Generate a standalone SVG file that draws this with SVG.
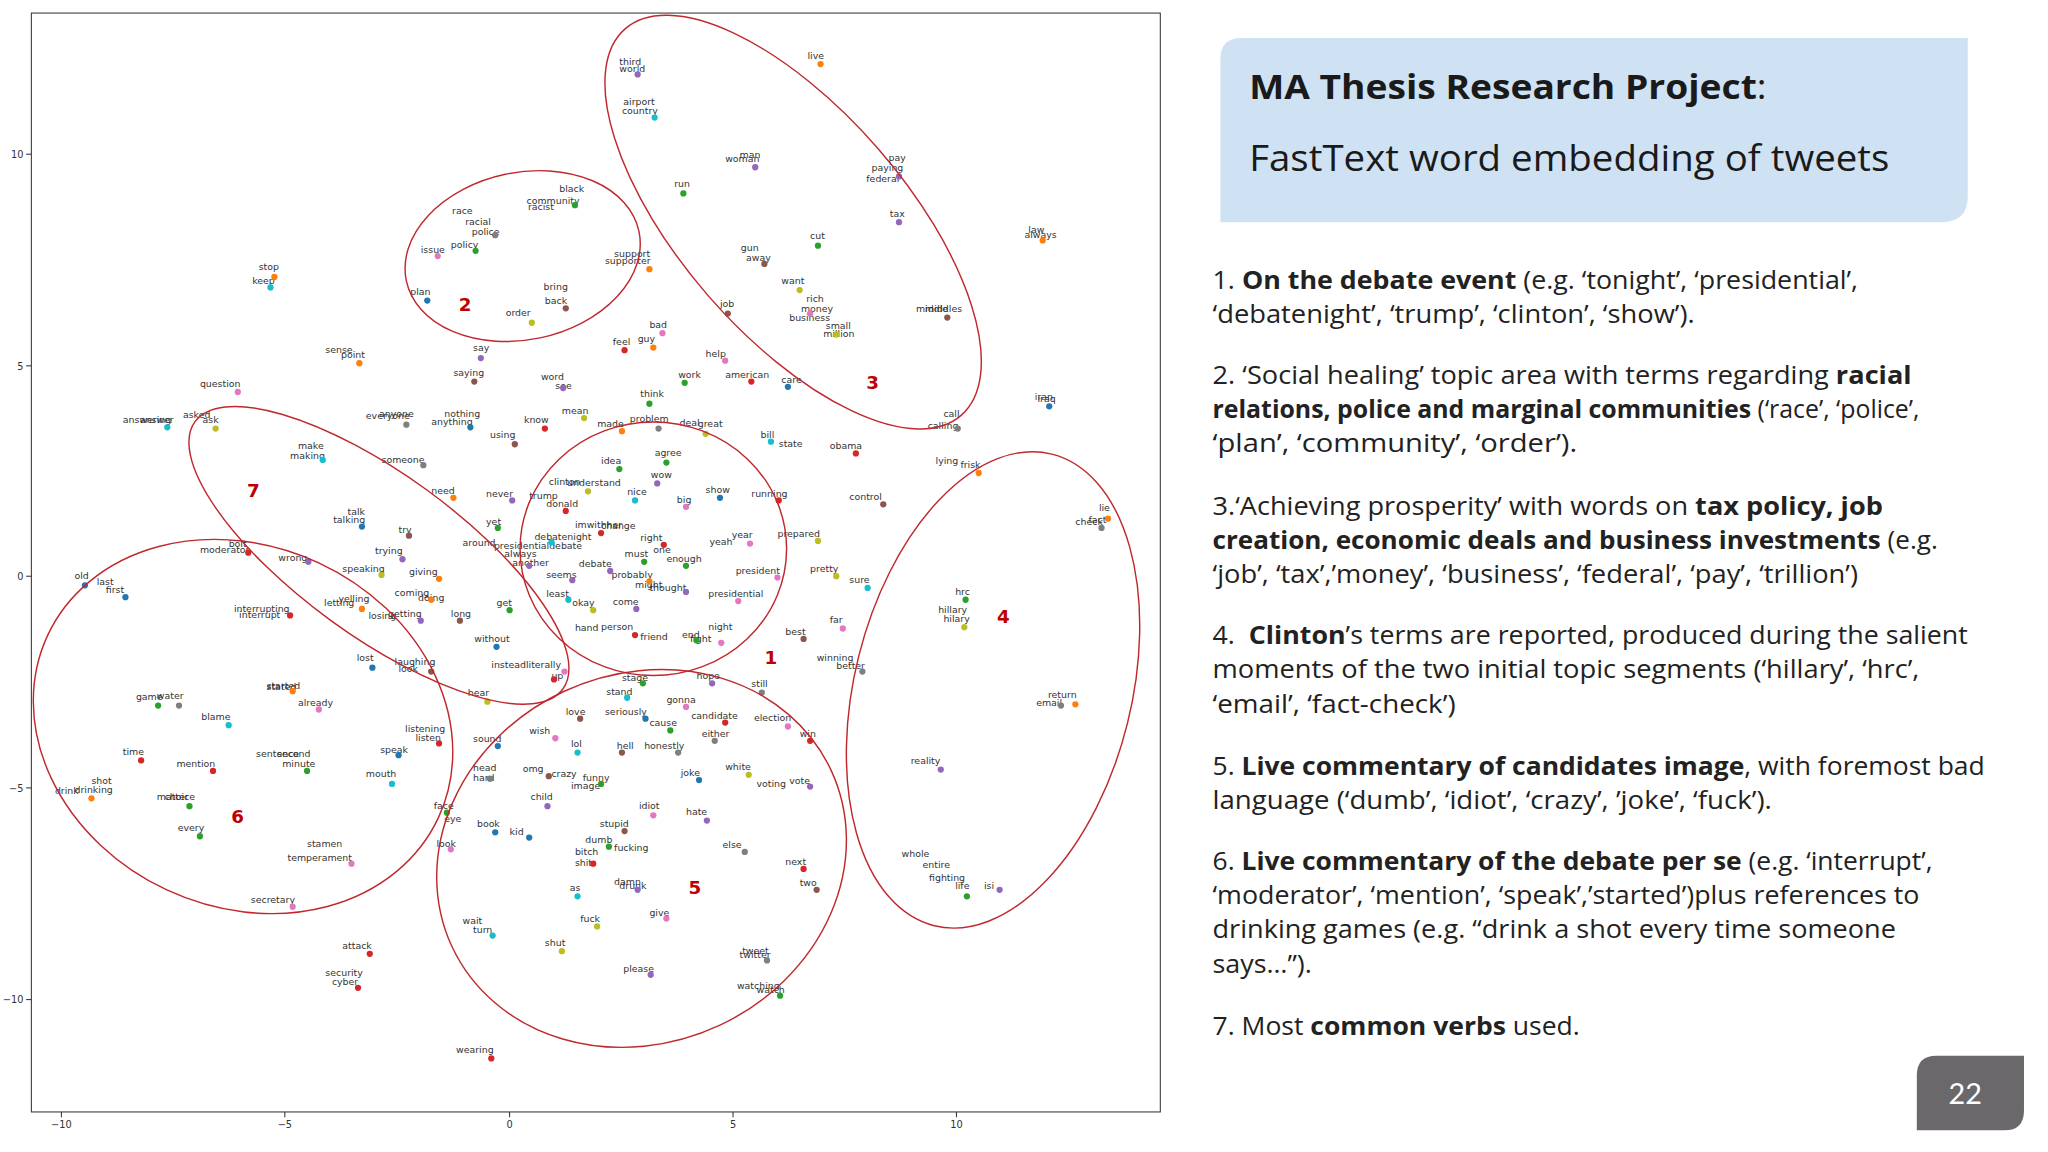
<svg xmlns="http://www.w3.org/2000/svg" width="2048" height="1152" viewBox="0 0 2048 1152">
<style>
.w{font-family:"DejaVu Sans",sans-serif;font-size:7.2px;fill:#333}
.ax{font-family:"DejaVu Sans",sans-serif;font-size:7.5px;fill:#333}
.n{font-family:"DejaVu Sans",sans-serif;font-size:14px;fill:#c00000;font-weight:bold}
.el{fill:none;stroke:#c0282d;stroke-width:1.1}
.t{font-family:"Open Sans",Lato,sans-serif;font-size:19.5px;fill:#222}
.a{fill:#1f77b4}.b{fill:#ff7f0e}.c{fill:#2ca02c}.d{fill:#d62728}.e{fill:#9467bd}.f{fill:#8c564b}.g{fill:#e377c2}.h{fill:#7f7f7f}.i{fill:#bcbd22}.j{fill:#17becf}
</style>
<rect width="2048" height="1152" fill="#fff"/>
<g transform="scale(1.30664)">
<g id="plot">
<rect x="24" y="10" width="864" height="841" fill="#fff" stroke="#333" stroke-width="0.8"/>
<g stroke="#333" stroke-width="0.8">
<line x1="47" y1="851" x2="47" y2="855"/><line x1="218" y1="851" x2="218" y2="855"/><line x1="390" y1="851" x2="390" y2="855"/><line x1="561" y1="851" x2="561" y2="855"/><line x1="732" y1="851" x2="732" y2="855"/>
<line x1="20" y1="118" x2="24" y2="118"/><line x1="20" y1="280" x2="24" y2="280"/><line x1="20" y1="441" x2="24" y2="441"/><line x1="20" y1="603" x2="24" y2="603"/><line x1="20" y1="765" x2="24" y2="765"/>
</g>
<g class="ax" text-anchor="middle"><text x="47" y="863">−10</text><text x="218" y="863">−5</text><text x="390" y="863">0</text><text x="561" y="863">5</text><text x="732" y="863">10</text></g>
<g class="ax" text-anchor="end"><text x="18" y="121">10</text><text x="18" y="283">5</text><text x="18" y="444">0</text><text x="18" y="606">−5</text><text x="18" y="768">−10</text></g>
<g class="w">
<text x="474" y="50">third</text><text x="474" y="55">world</text><text x="618" y="45">live</text><text x="477" y="80">airport</text><text x="476" y="87">country</text>
<text x="555" y="124">woman</text><text x="566" y="121">man</text><text x="680" y="123">pay</text><text x="667" y="131">paying</text><text x="663" y="139">federal</text>
<text x="516" y="143">run</text><text x="428" y="147">black</text><text x="403" y="156">community</text><text x="404" y="161">racist</text>
<text x="346" y="164">race</text><text x="356" y="172">racial</text><text x="361" y="180">police</text><text x="681" y="166">tax</text><text x="787" y="178">law</text><text x="784" y="182">always</text>
<text x="620" y="183">cut</text><text x="322" y="194">issue</text><text x="345" y="190">policy</text><text x="567" y="192">gun</text><text x="571" y="200">away</text>
<text x="470" y="197">support</text><text x="463" y="202">supporter</text><text x="198" y="207">stop</text><text x="193" y="217">keep</text><text x="598" y="217">want</text>
<text x="416" y="222">bring</text><text x="417" y="233">back</text><text x="617" y="231">rich</text><text x="613" y="239">money</text><text x="604" y="246">business</text><text x="632" y="252">small</text><text x="630" y="258">million</text>
<text x="314" y="226">plan</text><text x="701" y="239">middle</text><text x="708" y="239">middles</text><text x="551" y="235">job</text><text x="387" y="242">order</text><text x="497" y="251">bad</text>
<text x="469" y="264">feel</text><text x="488" y="262">guy</text><text x="362" y="269">say</text><text x="540" y="273">help</text><text x="249" y="270">sense</text><text x="261" y="274">point</text>
<text x="347" y="288">saying</text><text x="519" y="289">work</text><text x="555" y="289">american</text><text x="598" y="293">care</text><text x="414" y="291">word</text><text x="425" y="298">see</text>
<text x="153" y="296">question</text><text x="490" y="304">think</text><text x="792" y="306">iran</text><text x="794" y="308">iraq</text><text x="94" y="324">answering</text><text x="107" y="324">answer</text>
<text x="140" y="320">asked</text><text x="155" y="324">ask</text><text x="280" y="321">everyone</text><text x="290" y="319">anyone</text><text x="330" y="325">anything</text><text x="340" y="319">nothing</text>
<text x="401" y="324">know</text><text x="430" y="317">mean</text><text x="457" y="327">made</text><text x="482" y="323">problem</text><text x="520" y="326">deal</text><text x="534" y="327">great</text>
<text x="722" y="319">call</text><text x="710" y="328">calling</text><text x="375" y="335">using</text><text x="582" y="335">bill</text><text x="596" y="342">state</text><text x="635" y="344">obama</text>
<text x="228" y="344">make</text><text x="222" y="351">making</text><text x="501" y="349">agree</text><text x="292" y="354">someone</text><text x="460" y="355">idea</text><text x="716" y="355">lying</text><text x="735" y="358">frisk</text>
<text x="498" y="366">wow</text><text x="420" y="371">clinton</text><text x="434" y="372">understand</text><text x="480" y="379">nice</text><text x="405" y="382">trump</text><text x="418" y="388">donald</text>
<text x="330" y="378">need</text><text x="372" y="380">never</text><text x="540" y="377">show</text><text x="575" y="380">running</text><text x="518" y="385">big</text><text x="650" y="383">control</text>
<text x="266" y="394">talk</text><text x="255" y="400">talking</text><text x="440" y="404">imwithher</text><text x="460" y="405">change</text><text x="305" y="408">try</text><text x="372" y="402">yet</text>
<text x="409" y="413">debatenight</text><text x="378" y="420">presidentialdebate</text><text x="354" y="418">around</text><text x="490" y="414">right</text><text x="560" y="412">year</text><text x="543" y="417">yeah</text><text x="595" y="411">prepared</text>
<text x="153" y="423">moderator</text><text x="175" y="419">bolt</text><text x="287" y="424">trying</text><text x="386" y="426">always</text><text x="392" y="433">another</text><text x="478" y="426">must</text><text x="500" y="423">one</text>
<text x="510" y="430">enough</text><text x="213" y="429">wrong</text><text x="262" y="438">speaking</text><text x="313" y="440">giving</text><text x="418" y="442">seems</text><text x="443" y="434">debate</text>
<text x="563" y="439">president</text><text x="620" y="438">pretty</text><text x="468" y="442">probably</text><text x="650" y="446">sure</text><text x="57" y="443">old</text><text x="74" y="448">last</text><text x="81" y="454">first</text>
<text x="486" y="450">might</text><text x="497" y="452">thought</text><text x="418" y="457">least</text><text x="542" y="457">presidential</text><text x="731" y="455">hrc</text><text x="302" y="456">coming</text><text x="320" y="460">doing</text>
<text x="259" y="461">yelling</text><text x="248" y="464">letting</text><text x="179" y="468">interrupting</text><text x="183" y="473">interrupt</text><text x="438" y="464">okay</text><text x="469" y="463">come</text><text x="380" y="464">get</text>
<text x="718" y="469">hillary</text><text x="722" y="476">hilary</text><text x="282" y="474">losing</text><text x="297" y="472">getting</text><text x="345" y="472">long</text><text x="635" y="477">far</text>
<text x="440" y="483">hand</text><text x="460" y="482">person</text><text x="490" y="490">friend</text><text x="522" y="488">end</text><text x="542" y="482">night</text><text x="528" y="491">fight</text><text x="601" y="486">best</text>
<text x="363" y="491">without</text><text x="273" y="506">lost</text><text x="302" y="509">laughing</text><text x="305" y="514">look</text><text x="376" y="511">insteadliterally</text><text x="422" y="520">up</text>
<text x="625" y="506">winning</text><text x="640" y="512">better</text><text x="533" y="520">hope</text><text x="476" y="521">stage</text><text x="575" y="526">still</text><text x="204" y="527">started</text><text x="204" y="528">stated</text><text x="228" y="540">already</text>
<text x="358" y="533">hear</text><text x="464" y="532">stand</text><text x="510" y="538">gonna</text><text x="104" y="536">game</text><text x="120" y="535">water</text><text x="802" y="534">return</text><text x="793" y="540">email</text>
<text x="463" y="547">seriously</text><text x="529" y="550">candidate</text><text x="577" y="552">election</text><text x="433" y="547">love</text><text x="497" y="556">cause</text><text x="154" y="551">blame</text><text x="537" y="564">either</text>
<text x="405" y="562">wish</text><text x="310" y="560">listening</text><text x="318" y="567">listen</text><text x="612" y="564">win</text><text x="362" y="568">sound</text><text x="437" y="572">lol</text><text x="472" y="573">hell</text><text x="493" y="573">honestly</text>
<text x="291" y="576">speak</text><text x="196" y="579">sentence</text><text x="212" y="579">second</text><text x="216" y="587">minute</text><text x="94" y="578">time</text><text x="135" y="587">mention</text><text x="697" y="585">reality</text>
<text x="362" y="590">head</text><text x="362" y="598">hard</text><text x="400" y="591">omg</text><text x="422" y="595">crazy</text><text x="446" y="598">funny</text><text x="437" y="604">image</text><text x="555" y="589">white</text><text x="521" y="594">joke</text>
<text x="579" y="602">voting</text><text x="604" y="600">vote</text><text x="280" y="595">mouth</text><text x="70" y="600">shot</text><text x="42" y="608">drink</text><text x="57" y="607">drinking</text><text x="120" y="612">matter</text><text x="126" y="612">choice</text>
<text x="406" y="612">child</text><text x="489" y="619">idiot</text><text x="332" y="619">face</text><text x="525" y="624">hate</text><text x="340" y="629">eye</text><text x="365" y="633">book</text><text x="390" y="639">kid</text><text x="459" y="633">stupid</text>
<text x="136" y="636">every</text><text x="448" y="645">dumb</text><text x="470" y="651">fucking</text><text x="553" y="649">else</text><text x="235" y="648">stamen</text><text x="220" y="659">temperament</text><text x="334" y="648">look</text>
<text x="440" y="654">bitch</text><text x="440" y="663">shit</text><text x="690" y="656">whole</text><text x="706" y="664">entire</text><text x="711" y="674">fighting</text><text x="731" y="680">life</text><text x="753" y="680">isi</text>
<text x="601" y="662">next</text><text x="612" y="678">two</text><text x="436" y="682">as</text><text x="470" y="677">damn</text><text x="474" y="680">drunk</text><text x="192" y="691">secretary</text><text x="497" y="701">give</text>
<text x="354" y="707">wait</text><text x="362" y="714">turn</text><text x="444" y="706">fuck</text><text x="417" y="724">shut</text><text x="262" y="726">attack</text><text x="568" y="730">tweet</text><text x="566" y="733">twitter</text>
<text x="477" y="744">please</text><text x="249" y="747">security</text><text x="254" y="754">cyber</text><text x="564" y="757">watching</text><text x="579" y="760">watch</text><text x="349" y="806">wearing</text>
<text x="841" y="391">lie</text><text x="833" y="400">fact</text><text x="823" y="402">check</text>
</g>
<g>
<circle class="e" cx="488" cy="57" r="2.4"/><circle class="b" cx="628" cy="49" r="2.4"/><circle class="j" cx="501" cy="90" r="2.4"/><circle class="e" cx="578" cy="128" r="2.4"/><circle class="e" cx="688" cy="135" r="2.4"/>
<circle class="c" cx="523" cy="148" r="2.4"/><circle class="c" cx="440" cy="157" r="2.4"/><circle class="h" cx="379" cy="180" r="2.4"/><circle class="e" cx="688" cy="170" r="2.4"/><circle class="b" cx="798" cy="184" r="2.4"/>
<circle class="c" cx="626" cy="188" r="2.4"/><circle class="g" cx="335" cy="196" r="2.4"/><circle class="c" cx="364" cy="192" r="2.4"/><circle class="f" cx="585" cy="202" r="2.4"/><circle class="b" cx="497" cy="206" r="2.4"/>
<circle class="b" cx="210" cy="212" r="2.4"/><circle class="j" cx="207" cy="220" r="2.4"/><circle class="i" cx="612" cy="222" r="2.4"/><circle class="f" cx="433" cy="236" r="2.4"/><circle class="g" cx="620" cy="240" r="2.4"/><circle class="i" cx="640" cy="256" r="2.4"/>
<circle class="a" cx="327" cy="230" r="2.4"/><circle class="f" cx="725" cy="243" r="2.4"/><circle class="f" cx="557" cy="240" r="2.4"/><circle class="i" cx="407" cy="247" r="2.4"/><circle class="g" cx="507" cy="255" r="2.4"/>
<circle class="d" cx="478" cy="268" r="2.4"/><circle class="b" cx="500" cy="266" r="2.4"/><circle class="e" cx="368" cy="274" r="2.4"/><circle class="g" cx="555" cy="276" r="2.4"/><circle class="b" cx="275" cy="278" r="2.4"/>
<circle class="f" cx="363" cy="292" r="2.4"/><circle class="c" cx="524" cy="293" r="2.4"/><circle class="d" cx="575" cy="292" r="2.4"/><circle class="a" cx="603" cy="296" r="2.4"/><circle class="e" cx="431" cy="297" r="2.4"/>
<circle class="g" cx="182" cy="300" r="2.4"/><circle class="c" cx="497" cy="309" r="2.4"/><circle class="a" cx="803" cy="311" r="2.4"/><circle class="j" cx="128" cy="327" r="2.4"/><circle class="i" cx="165" cy="328" r="2.4"/>
<circle class="h" cx="311" cy="325" r="2.4"/><circle class="a" cx="360" cy="327" r="2.4"/><circle class="d" cx="417" cy="328" r="2.4"/><circle class="i" cx="447" cy="320" r="2.4"/><circle class="b" cx="476" cy="330" r="2.4"/><circle class="h" cx="504" cy="328" r="2.4"/><circle class="i" cx="540" cy="332" r="2.4"/>
<circle class="h" cx="733" cy="328" r="2.4"/><circle class="f" cx="394" cy="340" r="2.4"/><circle class="j" cx="590" cy="338" r="2.4"/><circle class="d" cx="655" cy="347" r="2.4"/><circle class="j" cx="247" cy="352" r="2.4"/>
<circle class="c" cx="510" cy="354" r="2.4"/><circle class="h" cx="324" cy="356" r="2.4"/><circle class="c" cx="474" cy="359" r="2.4"/><circle class="b" cx="749" cy="362" r="2.4"/><circle class="e" cx="503" cy="370" r="2.4"/>
<circle class="i" cx="450" cy="376" r="2.4"/><circle class="j" cx="486" cy="383" r="2.4"/><circle class="d" cx="433" cy="391" r="2.4"/><circle class="b" cx="347" cy="381" r="2.4"/><circle class="e" cx="392" cy="383" r="2.4"/><circle class="a" cx="551" cy="381" r="2.4"/>
<circle class="d" cx="596" cy="383" r="2.4"/><circle class="g" cx="525" cy="388" r="2.4"/><circle class="f" cx="676" cy="386" r="2.4"/><circle class="a" cx="277" cy="403" r="2.4"/><circle class="d" cx="460" cy="408" r="2.4"/><circle class="f" cx="313" cy="410" r="2.4"/>
<circle class="c" cx="381" cy="404" r="2.4"/><circle class="j" cx="422" cy="415" r="2.4"/><circle class="d" cx="508" cy="417" r="2.4"/><circle class="g" cx="574" cy="416" r="2.4"/><circle class="i" cx="626" cy="414" r="2.4"/>
<circle class="d" cx="190" cy="423" r="2.4"/><circle class="e" cx="308" cy="428" r="2.4"/><circle class="e" cx="405" cy="433" r="2.4"/><circle class="c" cx="493" cy="430" r="2.4"/><circle class="c" cx="525" cy="433" r="2.4"/><circle class="e" cx="236" cy="430" r="2.4"/>
<circle class="i" cx="292" cy="440" r="2.4"/><circle class="b" cx="336" cy="443" r="2.4"/><circle class="e" cx="438" cy="444" r="2.4"/><circle class="e" cx="467" cy="437" r="2.4"/><circle class="g" cx="595" cy="442" r="2.4"/><circle class="i" cx="640" cy="441" r="2.4"/>
<circle class="b" cx="497" cy="445" r="2.4"/><circle class="j" cx="664" cy="450" r="2.4"/><circle class="a" cx="65" cy="448" r="2.4"/><circle class="a" cx="96" cy="457" r="2.4"/><circle class="e" cx="525" cy="453" r="2.4"/><circle class="j" cx="435" cy="459" r="2.4"/>
<circle class="g" cx="565" cy="460" r="2.4"/><circle class="c" cx="739" cy="459" r="2.4"/><circle class="b" cx="330" cy="459" r="2.4"/><circle class="b" cx="277" cy="466" r="2.4"/><circle class="d" cx="222" cy="471" r="2.4"/>
<circle class="i" cx="454" cy="467" r="2.4"/><circle class="e" cx="487" cy="466" r="2.4"/><circle class="c" cx="390" cy="467" r="2.4"/><circle class="i" cx="738" cy="480" r="2.4"/><circle class="e" cx="322" cy="475" r="2.4"/><circle class="f" cx="352" cy="475" r="2.4"/>
<circle class="g" cx="645" cy="481" r="2.4"/><circle class="d" cx="486" cy="486" r="2.4"/><circle class="g" cx="552" cy="492" r="2.4"/><circle class="c" cx="533" cy="490" r="2.4"/><circle class="f" cx="615" cy="489" r="2.4"/><circle class="a" cx="380" cy="495" r="2.4"/>
<circle class="a" cx="285" cy="511" r="2.4"/><circle class="f" cx="330" cy="514" r="2.4"/><circle class="g" cx="432" cy="514" r="2.4"/><circle class="d" cx="424" cy="520" r="2.4"/><circle class="h" cx="660" cy="514" r="2.4"/><circle class="e" cx="545" cy="523" r="2.4"/>
<circle class="c" cx="492" cy="523" r="2.4"/><circle class="h" cx="583" cy="530" r="2.4"/><circle class="b" cx="224" cy="529" r="2.4"/><circle class="g" cx="244" cy="543" r="2.4"/><circle class="i" cx="373" cy="537" r="2.4"/><circle class="j" cx="480" cy="534" r="2.4"/>
<circle class="g" cx="525" cy="541" r="2.4"/><circle class="c" cx="121" cy="540" r="2.4"/><circle class="h" cx="137" cy="540" r="2.4"/><circle class="h" cx="812" cy="540" r="2.4"/><circle class="b" cx="823" cy="539" r="2.4"/>
<circle class="a" cx="494" cy="550" r="2.4"/><circle class="d" cx="555" cy="553" r="2.4"/><circle class="g" cx="603" cy="556" r="2.4"/><circle class="f" cx="444" cy="550" r="2.4"/><circle class="c" cx="513" cy="559" r="2.4"/><circle class="j" cx="175" cy="555" r="2.4"/>
<circle class="h" cx="547" cy="567" r="2.4"/><circle class="g" cx="425" cy="565" r="2.4"/><circle class="d" cx="336" cy="569" r="2.4"/><circle class="d" cx="620" cy="567" r="2.4"/><circle class="a" cx="381" cy="571" r="2.4"/>
<circle class="j" cx="442" cy="576" r="2.4"/><circle class="f" cx="476" cy="576" r="2.4"/><circle class="h" cx="519" cy="576" r="2.4"/><circle class="a" cx="305" cy="578" r="2.4"/><circle class="c" cx="235" cy="590" r="2.4"/><circle class="d" cx="108" cy="582" r="2.4"/>
<circle class="d" cx="163" cy="590" r="2.4"/><circle class="e" cx="720" cy="589" r="2.4"/><circle class="h" cx="375" cy="596" r="2.4"/><circle class="f" cx="420" cy="594" r="2.4"/><circle class="c" cx="460" cy="600" r="2.4"/>
<circle class="i" cx="573" cy="593" r="2.4"/><circle class="a" cx="535" cy="597" r="2.4"/><circle class="e" cx="620" cy="602" r="2.4"/><circle class="j" cx="300" cy="600" r="2.4"/><circle class="b" cx="70" cy="611" r="2.4"/><circle class="c" cx="145" cy="617" r="2.4"/>
<circle class="e" cx="419" cy="617" r="2.4"/><circle class="g" cx="500" cy="624" r="2.4"/><circle class="c" cx="342" cy="622" r="2.4"/><circle class="e" cx="541" cy="628" r="2.4"/><circle class="a" cx="379" cy="637" r="2.4"/><circle class="a" cx="405" cy="641" r="2.4"/>
<circle class="f" cx="478" cy="636" r="2.4"/><circle class="c" cx="153" cy="640" r="2.4"/><circle class="c" cx="466" cy="648" r="2.4"/><circle class="h" cx="570" cy="652" r="2.4"/><circle class="g" cx="269" cy="661" r="2.4"/><circle class="g" cx="345" cy="650" r="2.4"/>
<circle class="d" cx="454" cy="661" r="2.4"/><circle class="c" cx="740" cy="686" r="2.4"/><circle class="e" cx="765" cy="681" r="2.4"/><circle class="d" cx="615" cy="665" r="2.4"/><circle class="f" cx="625" cy="681" r="2.4"/>
<circle class="j" cx="442" cy="686" r="2.4"/><circle class="e" cx="488" cy="681" r="2.4"/><circle class="g" cx="224" cy="694" r="2.4"/><circle class="g" cx="510" cy="703" r="2.4"/><circle class="j" cx="377" cy="716" r="2.4"/><circle class="i" cx="457" cy="709" r="2.4"/>
<circle class="i" cx="430" cy="728" r="2.4"/><circle class="d" cx="283" cy="730" r="2.4"/><circle class="h" cx="587" cy="735" r="2.4"/><circle class="e" cx="498" cy="746" r="2.4"/><circle class="d" cx="274" cy="756" r="2.4"/><circle class="c" cx="597" cy="762" r="2.4"/>
<circle class="d" cx="376" cy="810" r="2.4"/><circle class="b" cx="848" cy="397" r="2.4"/><circle class="h" cx="843" cy="404" r="2.4"/>
</g>
<g id="clusters">
<ellipse class="el" cx="500" cy="420" rx="102" ry="97"/>
<ellipse class="el" cx="400" cy="196" rx="91" ry="64" transform="rotate(-12 400 196)"/>
<ellipse class="el" cx="607" cy="170" rx="196" ry="86" transform="rotate(49 607 170)"/>
<ellipse class="el" cx="760" cy="528" rx="106" ry="186" transform="rotate(14 760 528)"/>
<ellipse class="el" cx="491" cy="657" rx="160" ry="141" transform="rotate(-25 491 657)"/>
<ellipse class="el" cx="186" cy="556" rx="165" ry="138" transform="rotate(25 186 556)"/>
<ellipse class="el" cx="290" cy="425" rx="174" ry="62" transform="rotate(36 290 425)"/>
<text class="n" x="585" y="508">1</text><text class="n" x="351" y="238">2</text><text class="n" x="663" y="298">3</text><text class="n" x="763" y="477">4</text><text class="n" x="527" y="684">5</text><text class="n" x="177" y="630">6</text><text class="n" x="189" y="380">7</text>
</g>
</g>
<g id="title">
<path d="M950,29 H1506 V150 Q1506,170 1486,170 H934 V45 Q934,29 950,29 Z" fill="#cfe2f3"/>
<text x="956" y="76" font-family="'Open Sans',Lato,sans-serif" font-size="26" font-weight="bold" fill="#1a1a1a" textLength="396" lengthAdjust="spacingAndGlyphs">MA Thesis Research Project<tspan font-weight="normal">:</tspan></text>
<text x="956" y="131" font-family="'Open Sans',Lato,sans-serif" font-size="28" fill="#1a1a1a" textLength="490" lengthAdjust="spacingAndGlyphs">FastText word embedding of tweets</text>
</g>
<g id="notes" class="t">
<text x="928" y="221" textLength="494" lengthAdjust="spacingAndGlyphs">1. <tspan font-weight="bold">On the debate event</tspan> (e.g. ‘tonight’, ‘presidential’,</text>
<text x="928" y="247" textLength="369" lengthAdjust="spacingAndGlyphs">‘debatenight’, ‘trump’, ‘clinton’, ‘show’).</text>
<text x="928" y="294" textLength="535" lengthAdjust="spacingAndGlyphs">2. ‘Social healing’ topic area with terms regarding <tspan font-weight="bold">racial</tspan></text>
<text x="928" y="320" textLength="541" lengthAdjust="spacingAndGlyphs"><tspan font-weight="bold">relations, police and marginal communities</tspan> (‘race’, ‘police’,</text>
<text x="928" y="346" textLength="279" lengthAdjust="spacingAndGlyphs">‘plan’, ‘community’, ‘order’).</text>
<text x="928" y="394" textLength="513" lengthAdjust="spacingAndGlyphs">3.‘Achieving prosperity’ with words on <tspan font-weight="bold">tax policy, job</tspan></text>
<text x="928" y="420" textLength="555" lengthAdjust="spacingAndGlyphs"><tspan font-weight="bold">creation, economic deals and business investments</tspan> (e.g.</text>
<text x="928" y="446" textLength="494" lengthAdjust="spacingAndGlyphs">‘job’, ‘tax’,’money’, ‘business’, ‘federal’, ‘pay’, ‘trillion’)</text>
<text x="928" y="493" textLength="578" lengthAdjust="spacingAndGlyphs" xml:space="preserve">4.  <tspan font-weight="bold">Clinton</tspan>’s terms are reported, produced during the salient</text>
<text x="928" y="519" textLength="541" lengthAdjust="spacingAndGlyphs">moments of the two initial topic segments (‘hillary’, ‘hrc’,</text>
<text x="928" y="546" textLength="186" lengthAdjust="spacingAndGlyphs">‘email’, ‘fact-check’)</text>
<text x="928" y="593" textLength="591" lengthAdjust="spacingAndGlyphs">5. <tspan font-weight="bold">Live commentary of candidates image</tspan>, with foremost bad</text>
<text x="928" y="619" textLength="428" lengthAdjust="spacingAndGlyphs">language (‘dumb’, ‘idiot’, ‘crazy’, ’joke’, ‘fuck’).</text>
<text x="928" y="666" textLength="551" lengthAdjust="spacingAndGlyphs">6. <tspan font-weight="bold">Live commentary of the debate per se</tspan> (e.g. ‘interrupt’,</text>
<text x="928" y="692" textLength="541" lengthAdjust="spacingAndGlyphs">‘moderator’, ‘mention’, ‘speak’,’started’)plus references to</text>
<text x="928" y="718" textLength="523" lengthAdjust="spacingAndGlyphs">drinking games (e.g. “drink a shot every time someone</text>
<text x="928" y="745" textLength="76" lengthAdjust="spacingAndGlyphs">says…”).</text>
<text x="928" y="792" textLength="281" lengthAdjust="spacingAndGlyphs">7. Most <tspan font-weight="bold">common verbs</tspan> used.</text>
</g>
<g id="pagenum">
<path d="M1482,808 H1549 V850 Q1549,865 1534,865 H1467 V823 Q1467,808 1482,808 Z" fill="#6b686b"/>
<text x="1504" y="845" text-anchor="middle" font-family="Lato,sans-serif" font-size="22" fill="#fff">22</text>
</g>
</g>
</svg>
